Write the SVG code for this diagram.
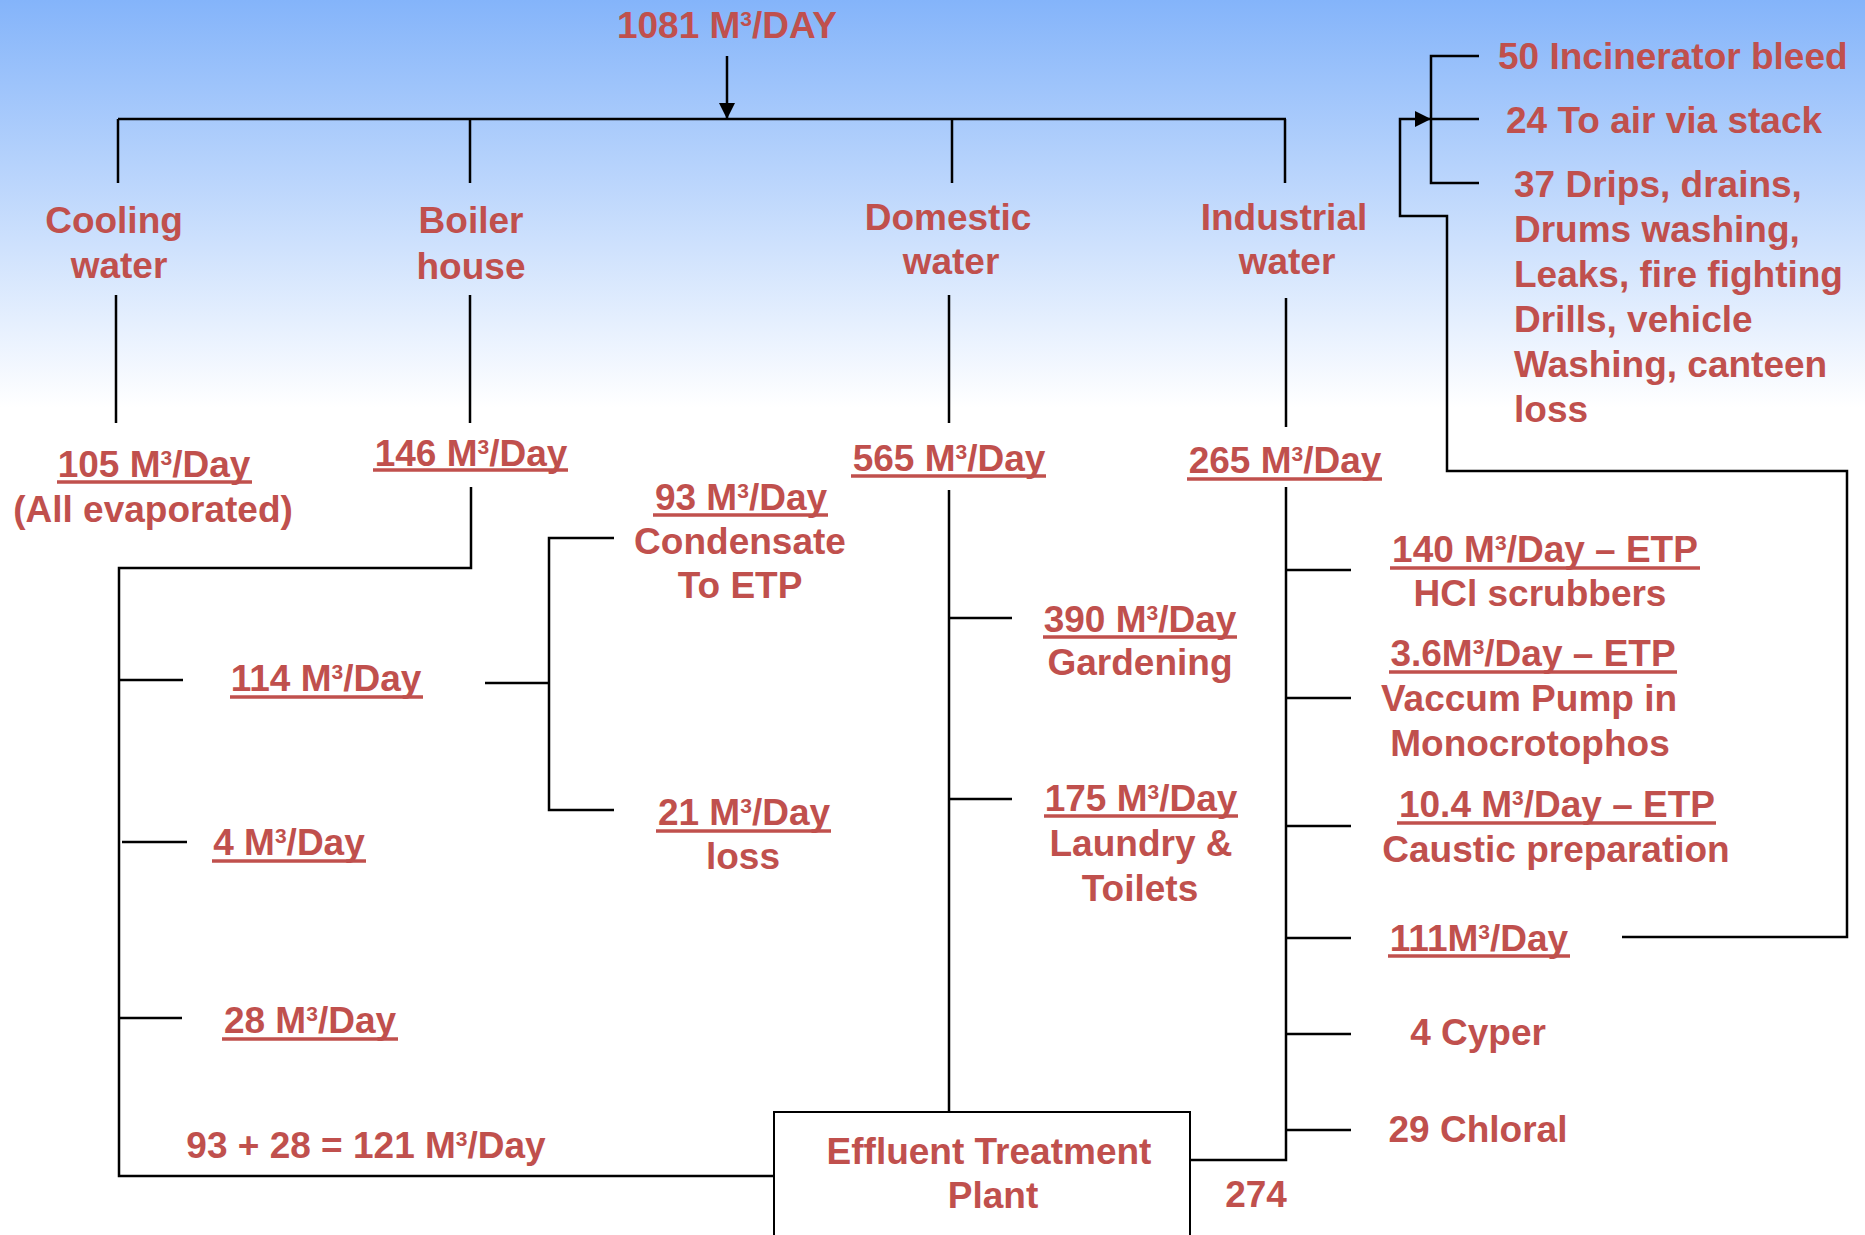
<svg xmlns="http://www.w3.org/2000/svg" width="1865" height="1235" viewBox="0 0 1865 1235">
<defs>
<linearGradient id="bg" x1="0" y1="0" x2="0" y2="1235" gradientUnits="userSpaceOnUse">
<stop offset="0" stop-color="#84B4FA"/>
<stop offset="0.33" stop-color="#FFFFFF"/>
<stop offset="1" stop-color="#FFFFFF"/>
</linearGradient>
<marker id="ah" markerUnits="userSpaceOnUse" markerWidth="16" markerHeight="16" refX="16" refY="8" orient="auto">
<path d="M0,0 L16,8 L0,16 z" fill="#000"/>
</marker>
<style>
.t{font-family:"Liberation Sans",Arial,sans-serif;font-weight:bold;font-size:37px;fill:#C0504D}
.m{text-anchor:middle}
.s{font-size:21px}
.u{stroke:#C0504D;stroke-width:3.5}
.c{fill:none;stroke:#000;stroke-width:2.5}
.box{fill:#FFFFFF;stroke:#000;stroke-width:2}
</style>
</defs>
<rect x="0" y="0" width="1865" height="1235" fill="url(#bg)"/>

<g id="connectors">
<path class="c" d="M727,56 L727,119" marker-end="url(#ah)"/>
<path class="c" d="M118,119 L1286,119"/>
<path class="c" d="M118,119 L118,183 M470,119 L470,183 M952,119 L952,183 M1285,119 L1285,183"/>
<path class="c" d="M116,295 L116,423 M470,295 L470,423 M949,295 L949,423 M1286,298 L1286,427"/>
<path class="c" d="M471,487 L471,568 L119,568 L119,1176 L774,1176"/>
<path class="c" d="M119,680 L183,680 M122,842 L187,842 M119,1018 L182,1018"/>
<path class="c" d="M485,683 L549,683 M614,538 L549,538 L549,810 L614,810"/>
<path class="c" d="M949,490 L949,1112 M949,618 L1012,618 M949,799 L1012,799"/>
<path class="c" d="M1286,487 L1286,1160 L1190,1160"/>
<path class="c" d="M1286,570 L1351,570 M1286,698 L1351,698 M1286,826 L1351,826 M1286,938 L1351,938 M1286,1034 L1351,1034 M1286,1130 L1351,1130"/>
<path class="c" d="M1622,937 L1847,937 L1847,471 L1447,471 L1447,216 L1400,216 L1400,119 L1431,119" marker-end="url(#ah)"/>
<path class="c" d="M1479,56 L1431,56 L1431,183 L1479,183 M1431,119 L1479,119"/>
</g>

<g id="source">
<text class="t m" x="727" y="38">1081 M<tspan class="s" dy="-12">3</tspan><tspan dy="12">/DAY</tspan></text>
</g>
<g id="cooling-water">
<text class="t m" x="114" y="233">Cooling</text>
<text class="t m" x="119" y="278">water</text>
</g>
<g id="boiler-house">
<text class="t m" x="471" y="233">Boiler</text>
<text class="t m" x="471" y="279">house</text>
</g>
<g id="domestic-water">
<text class="t m" x="948" y="230">Domestic</text>
<text class="t m" x="951" y="274">water</text>
</g>
<g id="industrial-water">
<text class="t m" x="1284" y="230">Industrial</text>
<text class="t m" x="1287" y="274">water</text>
</g>
<g id="cooling-105">
<text class="t m" x="154" y="477">105 M<tspan class="s" dy="-12">3</tspan><tspan dy="12">/Day</tspan></text>
<line class="u" x1="57" y1="482" x2="252" y2="482"/>
<text class="t m" x="153" y="522">(All evaporated)</text>
</g>
<g id="boiler-146">
<text class="t m" x="471" y="466">146 M<tspan class="s" dy="-12">3</tspan><tspan dy="12">/Day</tspan></text>
<line class="u" x1="373" y1="470" x2="568" y2="470"/>
</g>
<g id="boiler-93">
<text class="t m" x="741" y="510">93 M<tspan class="s" dy="-12">3</tspan><tspan dy="12">/Day</tspan></text>
<line class="u" x1="653" y1="515" x2="828" y2="515"/>
<text class="t m" x="740" y="554">Condensate</text>
<text class="t m" x="740" y="598">To ETP</text>
</g>
<g id="boiler-114">
<text class="t m" x="326" y="691">114 M<tspan class="s" dy="-12">3</tspan><tspan dy="12">/Day</tspan></text>
<line class="u" x1="230" y1="697" x2="423" y2="697"/>
</g>
<g id="boiler-21">
<text class="t m" x="744" y="825">21 M<tspan class="s" dy="-12">3</tspan><tspan dy="12">/Day</tspan></text>
<line class="u" x1="656" y1="831" x2="831" y2="831"/>
<text class="t m" x="743" y="869">loss</text>
</g>
<g id="boiler-4">
<text class="t m" x="289" y="855">4 M<tspan class="s" dy="-12">3</tspan><tspan dy="12">/Day</tspan></text>
<line class="u" x1="212" y1="861" x2="366" y2="861"/>
</g>
<g id="boiler-28">
<text class="t m" x="310" y="1033">28 M<tspan class="s" dy="-12">3</tspan><tspan dy="12">/Day</tspan></text>
<line class="u" x1="222" y1="1039" x2="398" y2="1039"/>
</g>
<g id="sum-121">
<text class="t m" x="366" y="1158">93 + 28 = 121 M<tspan class="s" dy="-12">3</tspan><tspan dy="12">/Day</tspan></text>
</g>
<g id="domestic-565">
<text class="t m" x="949" y="471">565 M<tspan class="s" dy="-12">3</tspan><tspan dy="12">/Day</tspan></text>
<line class="u" x1="851" y1="476" x2="1046" y2="476"/>
</g>
<g id="domestic-390">
<text class="t m" x="1140" y="632">390 M<tspan class="s" dy="-12">3</tspan><tspan dy="12">/Day</tspan></text>
<line class="u" x1="1043" y1="637" x2="1237" y2="637"/>
<text class="t m" x="1140" y="675">Gardening</text>
</g>
<g id="domestic-175">
<text class="t m" x="1141" y="811">175 M<tspan class="s" dy="-12">3</tspan><tspan dy="12">/Day</tspan></text>
<line class="u" x1="1044" y1="816" x2="1238" y2="816"/>
<text class="t m" x="1141" y="856">Laundry &amp;</text>
<text class="t m" x="1140" y="901">Toilets</text>
</g>
<g id="industrial-265">
<text class="t m" x="1285" y="473">265 M<tspan class="s" dy="-12">3</tspan><tspan dy="12">/Day</tspan></text>
<line class="u" x1="1187" y1="479" x2="1382" y2="479"/>
</g>
<g id="industrial-140">
<text class="t m" x="1545" y="562">140 M<tspan class="s" dy="-12">3</tspan><tspan dy="12">/Day – ETP</tspan></text>
<line class="u" x1="1390" y1="568" x2="1700" y2="568"/>
<text class="t m" x="1540" y="606">HCl scrubbers</text>
</g>
<g id="industrial-3-6">
<text class="t m" x="1533" y="666">3.6M<tspan class="s" dy="-12">3</tspan><tspan dy="12">/Day – ETP</tspan></text>
<line class="u" x1="1389" y1="672" x2="1677" y2="672"/>
<text class="t m" x="1529" y="711">Vaccum Pump in</text>
<text class="t m" x="1530" y="756">Monocrotophos</text>
</g>
<g id="industrial-10-4">
<text class="t m" x="1557" y="817">10.4 M<tspan class="s" dy="-12">3</tspan><tspan dy="12">/Day – ETP</tspan></text>
<line class="u" x1="1397" y1="823" x2="1716" y2="823"/>
<text class="t m" x="1556" y="862">Caustic preparation</text>
</g>
<g id="industrial-111">
<text class="t m" x="1479" y="951">111M<tspan class="s" dy="-12">3</tspan><tspan dy="12">/Day</tspan></text>
<line class="u" x1="1388" y1="956" x2="1570" y2="956"/>
</g>
<g id="industrial-cyper">
<text class="t m" x="1478" y="1045">4 Cyper</text>
</g>
<g id="industrial-chloral">
<text class="t m" x="1478" y="1142">29 Chloral</text>
</g>
<g id="incinerator">
<text class="t" x="1498" y="69">50 Incinerator bleed</text>
</g>
<g id="air-stack">
<text class="t" x="1506" y="133">24 To air via stack</text>
</g>
<g id="drips">
<text class="t" x="1514" y="197">37 Drips, drains,</text>
<text class="t" x="1514" y="242">Drums washing,</text>
<text class="t" x="1514" y="287">Leaks, fire fighting</text>
<text class="t" x="1514" y="332">Drills, vehicle</text>
<text class="t" x="1514" y="377">Washing, canteen</text>
<text class="t" x="1514" y="422">loss</text>
</g>
<g id="etp">
<rect class="box" x="774" y="1112" width="416" height="160"/>
<text class="t m" x="989" y="1164">Effluent Treatment</text>
<text class="t m" x="993" y="1208">Plant</text>
</g>
<g id="etp-274">
<text class="t m" x="1256" y="1207">274</text>
</g>
</svg>
